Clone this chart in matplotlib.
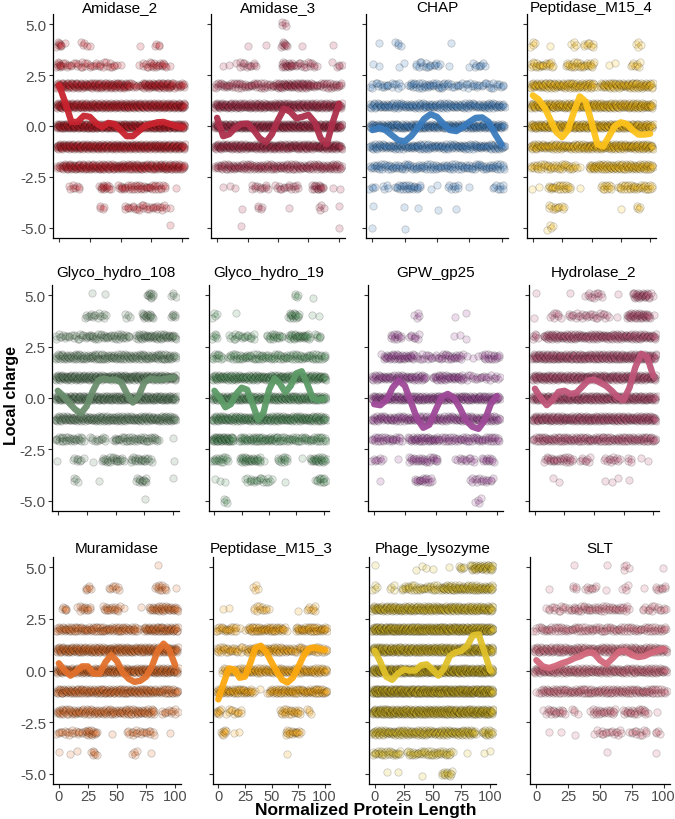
import matplotlib
matplotlib.use("Agg")
import matplotlib.pyplot as plt

plt.rcParams['font.family'] = ['Liberation Sans', 'DejaVu Sans']
plt.rcParams['axes.unicode_minus'] = False

######
# charge levels (top to bottom) and the x positions where the smooth curves were read
######
LEVELS = [5, 4, 3, 2, 1, 0, -1, -2, -3, -4, -5]
CURVE_X = [0, 5, 10, 15, 20, 25, 30, 35, 40, 45, 50, 55, 60, 65, 70, 75, 80, 85, 90, 95, 100]

######
# point bands: one string per level,
# "bins:density" with bins of 5 length-units (bin k is centred at 5*k)
######
AMIDASE_2_BANDS = ["", "0:4,1:1,4:2,5:1,13:1,16:2", "0:5,1-9:2,10:1,13:1,14:2,15-17:3,18:1",
                   "0-11:6,12:3,13:2,14-18:6,19:3,20:4", "0:8,1-19:7,20:8", "0-20:8", "0-20:7",
                   "0:3,1-19:6,20:5", "2-3:2,7:4,8:3,10-16:3,17:2,19:1", "7:2,11-17:2,18:1", "18:1"]
AMIDASE_3_BANDS = ["11:2", "5:1,8:1,11:4,14:1,19:1", "1-3:1,4-6:2,11-12:4,13-16:2,19:1,20:2",
                   "0:3,1-8:3,9:2,10-15:5,16-20:3", "0-20:6", "0-20:7", "0-20:6", "0:3,1-20:4",
                   "1-3:1,6-8:2,10-13:2,16-17:4,19-20:1", "4:1,7:2,12:1,17:2,20:1", "4:1,20:1"]
CHAP_BANDS = ["", "1:1,4:2,12:1", "0-1:1,4-5:1,7-9:2,10:2,12:1,15:1,16-17:2",
              "0-4:2,6-11:3,12-20:2", "0-20:4", "0-20:5", "0-20:4", "0-20:3",
              "0:2,2:2,4-7:3,9-10:1,12-13:2,15:1,19-20:2", "0:1,5:1,7:1,10:1,13:1", "0:1,5:1"]
PEPTIDASE_M15_4_BANDS = ["", "0:2,3:1,7:2,9-10:2,18:2", "0-3:3,6-10:3,13-14:1,17:2,18:2",
                         "0-10:5,11:1,12-20:5", "0-20:6", "0-20:6", "0-8:5,9-20:6",
                         "0-7:3,8:1,10-20:5", "0:1,1:1,3-6:3,8:1,12-13:3,15-20:3",
                         "3-5:2,15:1,18:2", "3:2"]
GLYCO_HYDRO_108_BANDS = ["6:1,8:1,16:5,20:2", "5-8:2,12:2,15-16:4,20:3", "0-4:2,5-12:3,14-20:4",
                         "0-20:4", "0-20:6", "0-20:6", "0-20:5", "0-4:3,6-8:2,10-17:3,20:1",
                         "0:1,3-4:2,6:1,8-11:3,13-15:3,16:2,20:1", "3:2,7:1,14-15:3,20:1", "15:1"]
GLYCO_HYDRO_19_BANDS = ["15:2,18:1", "0:2,4:1,14-15:4,18-19:1", "0:3,3-7:2,10-12:3,14-17:4,19:3",
                        "0-1:3,3-20:3", "0-20:5", "0-20:5", "0-20:5", "0-3:6,5-11:4,12-20:3",
                        "0-2:3,5-8:4,9:1,12-13:3,16:1,18-20:4", "0-2:1,6-10:2,13:1,19-20:3", "2:2"]
GPW_GP25_BANDS = ["", "7:2,13:1,15:1", "3-4:3,6-7:2,13-15:1",
                  "1:1,2-6:4,7-10:2,11-14:3,15-17:1,18-20:3", "0-8:4,10-14:4,15-20:2",
                  "0-20:5", "0-20:4", "0-4:3,6-10:4,11-20:3",
                  "0-1:2,4:1,6-10:3,13:1,14-16:2,18-19:3", "1:1,7-9:3,16-19:2", "17:2"]
HYDROLASE_2_BANDS = ["0:1,6:1,9-11:2,14:1,17-19:5,20:1", "0:1,3-4:2,6-11:2,12:2,14:1,16-19:5,20:1",
                     "0:3,2-20:5", "0-20:6", "0-20:6", "0-20:6", "0-20:6", "0:3,1-20:4",
                     "2-6:3,8-9:2,12-14:2,16:2,18-19:1", "3-4:1,12-14:1,16:1", ""]
MURAMIDASE_BANDS = ["17:1", "5:3,9-10:2,17-18:3,20:1", "1:3,3:1,4-5:3,8-10:3,11:1,14:1,16-20:4",
                    "0-1:4,2-13:4,14:1,15-20:5", "0-20:6", "0-20:6", "0-16:5,17-20:4",
                    "0-16:4,18-20:2", "0-4:2,5-6:4,9:1,12-16:2,19:1", "0:1,2-3:1,6:3,13:2,16:1", ""]
PEPTIDASE_M15_3_BANDS = ["", "7:2", "1:1,2:1,7-9:2,15:1,17-18:2", "0-3:3,4-5:1,6-12:4,13:1,15-20:4",
                         "0-3:3,4-5:2,6-13:4,14-20:3", "1-4:3,5-20:4", "0-6:4,7-9:1,10-20:4",
                         "0:4,2-4:2,12-15:3,17:2", "1:4,3-4:1,13-15:3", "13:1", ""]
PHAGE_LYSOZYME_BANDS = ["0:1,7-10:1,13:1,15:3,17-20:5", "0:2,3:2,5-11:3,12-20:5", "0-20:6",
                        "0-20:8", "0-20:8", "0-20:9", "0-20:9", "0-20:8", "0-17:5,19-20:4",
                        "0-4:3,6-13:3,16:1,19-20:1", "2:1,4:1,8:1,12-13:3"]
SLT_BANDS = ["6:1,11:1,14:2,20:1", "2:1,6:2,8-9:2,11:1,14:2,17:1,19-20:2", "2-5:2,6-14:3,17-20:2",
             "0:2,1-20:3", "0-20:5", "0-20:5", "0:1,1-18:4,19-20:3",
             "1:1,2-4:3,6:2,9-12:3,14-17:3,19:1", "2:1,4:1,6:1,9:1,10-13:2,15-17:2,19:2",
             "11:1,19:1", ""]

######
# smooth curves, read at CURVE_X
######
AMIDASE_2_CURVE = [2.0, 1.15, 0.2, 0.2, 0.5, 0.45, 0.15, -0.05, 0.15, 0.1, -0.2,
                   -0.5, -0.5, -0.25, 0.0, 0.1, 0.18, 0.2, 0.1, 0.0, -0.06]
AMIDASE_3_CURVE = [0.4, -0.5, -0.4, -0.1, 0.1, 0.12, -0.2, -0.6, -0.8, -0.4, 0.3,
                   0.85, 0.7, 0.38, 0.45, 0.55, 0.2, -0.6, -0.9, 0.2, 1.1]
CHAP_CURVE = [-0.2, -0.1, -0.2, -0.45, -0.7, -0.75, -0.5, -0.1, 0.35, 0.58, 0.45,
              0.1, -0.2, -0.25, -0.05, 0.2, 0.4, 0.42, 0.2, -0.4, -0.9]
PEPTIDASE_M15_4_CURVE = [1.5, 1.3, 0.9, 0.3, -0.3, -0.55, -0.2, 0.7, 1.45, 1.2, 0.2,
                         -0.9, -1.0, -0.5, 0.0, 0.18, 0.1, -0.2, -0.42, -0.42, -0.38]
GLYCO_HYDRO_108_CURVE = [0.35, 0.1, -0.25, -0.55, -0.75, -0.4, 0.3, 0.85, 0.95, 0.88, 0.9,
                         0.75, 0.2, -0.22, 0.1, 0.75, 0.95, 0.9, 0.9, 0.95, 1.0]
GLYCO_HYDRO_19_CURVE = [0.35, 0.0, -0.45, -0.3, 0.2, 0.5, 0.4, -0.3, -1.05, -0.7, 0.4,
                        0.95, 0.7, 0.27, 0.6, 1.2, 1.3, 0.7, 0.0, -0.1, -0.05]
GPW_GP25_CURVE = [-0.3, -0.35, -0.1, 0.5, 0.85, 0.6, -0.2, -1.0, -1.45, -1.3, -0.6,
                  0.05, 0.2, 0.0, -0.5, -1.1, -1.4, -1.5, -1.1, -0.3, 0.1]
HYDROLASE_2_CURVE = [0.45, 0.0, -0.35, -0.1, 0.3, 0.35, 0.2, 0.25, 0.55, 0.85, 0.9,
                     0.75, 0.6, 0.35, 0.05, -0.1, 0.5, 1.5, 2.15, 2.0, 1.1]
MURAMIDASE_CURVE = [0.35, 0.0, -0.25, -0.05, 0.2, 0.2, -0.15, -0.15, 0.4, 0.75, 0.45,
                    -0.1, -0.4, -0.55, -0.5, -0.3, 0.2, 0.95, 1.3, 1.0, 0.25]
PEPTIDASE_M15_3_CURVE = [-1.4, -0.6, 0.1, 0.05, -0.35, -0.3, 0.35, 1.1, 1.2, 0.9, 0.4,
                         -0.05, -0.45, -0.58, -0.35, 0.15, 0.7, 1.05, 1.12, 1.05, 1.0]
PHAGE_LYSOZYME_CURVE = [0.95, 0.4, -0.3, -0.45, -0.15, 0.05, 0.0, 0.0, 0.25, 0.3, 0.05,
                        -0.25, 0.1, 0.7, 0.88, 0.95, 1.2, 1.7, 1.75, 0.9, 0.0]
SLT_CURVE = [0.5, 0.2, 0.12, 0.22, 0.35, 0.45, 0.6, 0.7, 0.88, 0.85, 0.5,
             0.3, 0.6, 0.92, 0.95, 0.75, 0.65, 0.7, 0.85, 0.95, 1.05]

NAMES = ["Amidase_2", "Amidase_3", "CHAP", "Peptidase_M15_4",
         "Glyco_hydro_108", "Glyco_hydro_19", "GPW_gp25", "Hydrolase_2",
         "Muramidase", "Peptidase_M15_3", "Phage_lysozyme", "SLT"]
BANDS = [AMIDASE_2_BANDS, AMIDASE_3_BANDS, CHAP_BANDS, PEPTIDASE_M15_4_BANDS,
         GLYCO_HYDRO_108_BANDS, GLYCO_HYDRO_19_BANDS, GPW_GP25_BANDS, HYDROLASE_2_BANDS,
         MURAMIDASE_BANDS, PEPTIDASE_M15_3_BANDS, PHAGE_LYSOZYME_BANDS, SLT_BANDS]
CURVES = [AMIDASE_2_CURVE, AMIDASE_3_CURVE, CHAP_CURVE, PEPTIDASE_M15_4_CURVE,
          GLYCO_HYDRO_108_CURVE, GLYCO_HYDRO_19_CURVE, GPW_GP25_CURVE, HYDROLASE_2_CURVE,
          MURAMIDASE_CURVE, PEPTIDASE_M15_3_CURVE, PHAGE_LYSOZYME_CURVE, SLT_CURVE]
COLORS = ["#C8232E", "#AC2F4B", "#3A7BBD", "#FDC21A",
          "#6A8E6D", "#5C9A66", "#9E4898", "#BF5679",
          "#E2702B", "#FDA90F", "#E0C12A", "#D3687B"]

######
# layout, in pixels of the 675x820 picture: (left, right) per panel and (top, bottom) per row
######
ROWS_PX = [(15, 239), (286, 512), (558, 785)]
COLS_PX = [[(53, 188), (211, 345), (366, 508), (527, 656)],
           [(52, 179), (209, 329), (368, 503), (529, 659)],
           [(53, 181), (213, 330), (369, 496), (530, 670)]]
TITLE_PAD = [1.0, 6.7, 3.4]

# small fixed jitter so the bands have some thickness
YJIT = [0.0, 0.09, -0.07, 0.04, -0.11, 0.12, -0.03, 0.07, -0.09, 0.02, -0.05]
XJIT = [0.0, 0.6, -0.4, 0.3, -0.7, 0.5, -0.2]
PTS_PER_STEP = 2   # points drawn per density step


def band_points(bands):
    xs, ys = [], []
    for lev, spec in zip(LEVELS, bands):
        if not spec:
            continue
        for part in spec.split(','):
            rng, d = part.split(':')
            ends = rng.split('-')
            a, b = int(ends[0]), int(ends[-1])
            d = int(d)
            n = d if d == 1 else d * PTS_PER_STEP
            for k in range(a, b + 1):
                for i in range(n):
                    j = k * 3 + i + lev
                    xs.append(k * 5 - 2.5 + (i + 0.5) * 5.0 / n + XJIT[j % len(XJIT)])
                    ys.append(lev + YJIT[j % len(YJIT)])
    return xs, ys


W, H = 675, 820
fig = plt.figure(figsize=(W / 100, H / 100), dpi=100)

for idx in range(12):
    r, c = divmod(idx, 4)
    left, right = COLS_PX[r][c]
    top, bottom = ROWS_PX[r]
    ax = fig.add_axes([left / W, 1 - bottom / H, (right - left) / W, (bottom - top) / H])

    xs, ys = band_points(BANDS[idx])
    ax.scatter(xs, ys, s=28, c=COLORS[idx], edgecolors='black', linewidths=0.6,
               alpha=0.19, zorder=2)
    ax.plot(CURVE_X, CURVES[idx], color=COLORS[idx], lw=4.6, alpha=0.95,
            solid_joinstyle='round', solid_capstyle='round', zorder=3)

    ax.set_xlim(-5, 105)
    ax.set_ylim(-5.5, 5.5)
    ax.set_xticks([0, 25, 50, 75, 100])
    ax.set_yticks([5, 2.5, 0, -2.5, -5])
    ax.set_yticklabels(["5.0", "2.5", "0.0", "-2.5", "-5.0"])
    ax.tick_params(length=3, width=0.8, color='#333333', labelcolor='#4D4D4D',
                   labelsize=11, pad=1.5)
    ax.tick_params(axis='x', labelsize=10.5, pad=0.5)
    if r < 2:
        ax.tick_params(axis='x', labelbottom=False)
    if c > 0:
        ax.tick_params(axis='y', labelleft=False)
    for side in ['top', 'right']:
        ax.spines[side].set_visible(False)
    for side in ['left', 'bottom']:
        ax.spines[side].set_linewidth(0.9)
    ax.set_title(NAMES[idx], fontsize=11, pad=TITLE_PAD[r])

fig.text(12 / W, 1 - 396 / H, "Local charge", rotation=90, ha='center', va='center',
         fontsize=11.5, fontweight='bold')
fig.text(366 / W, 1 - 811 / H, "Normalized Protein Length", ha='center', va='center',
         fontsize=12.5, fontweight='bold')

plt.savefig('out.png', dpi=100)
